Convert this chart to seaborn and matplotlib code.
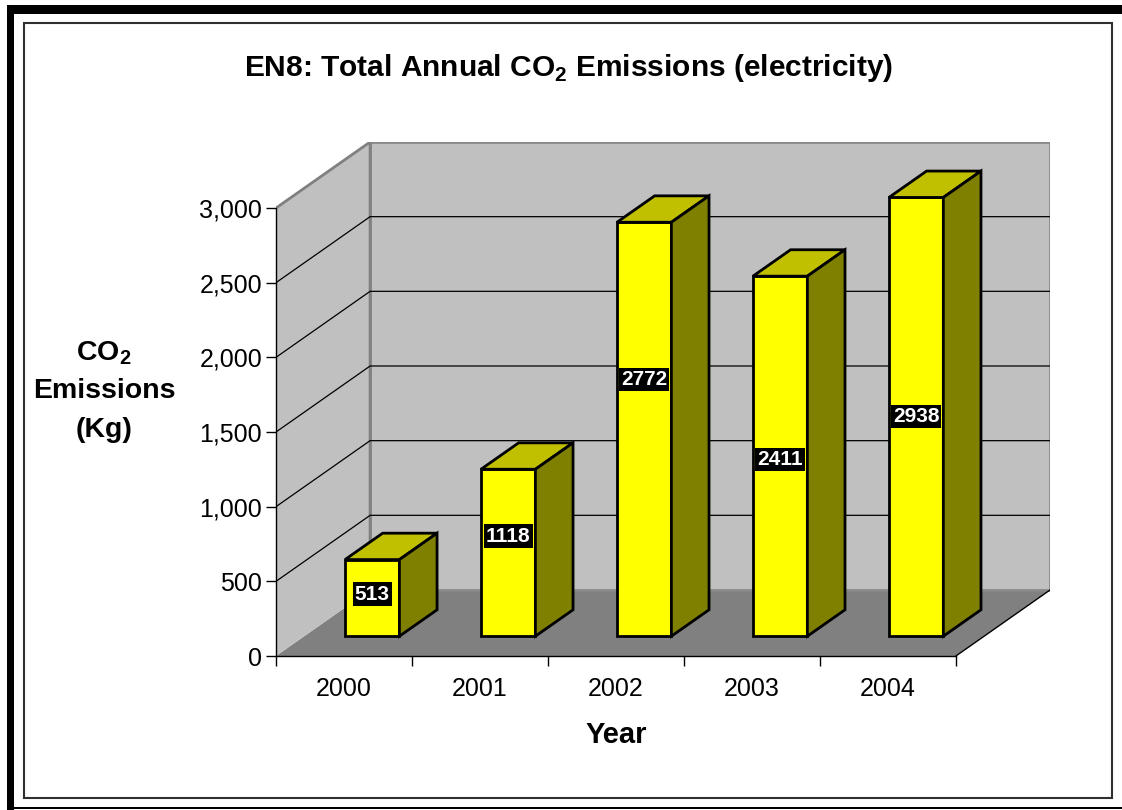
import matplotlib
matplotlib.use('Agg')
import matplotlib.pyplot as plt
from matplotlib.patches import Polygon, Rectangle
import seaborn as sns

# data
years = ['2000', '2001', '2002', '2003', '2004']
emissions = [513, 1118, 2772, 2411, 2938]
y_ticks = [0, 500, 1000, 1500, 2000, 2500, 3000]
label_frac = [0.55, 0.6, 0.62, 0.49, 0.5]   # height of the value label inside each bar

sns.set_style('white')
plt.rcParams['font.family'] = ['Liberation Sans', 'DejaVu Sans']
plt.rcParams['mathtext.fontset'] = 'custom'
plt.rcParams['mathtext.rm'] = 'Liberation Sans'
plt.rcParams['mathtext.bf'] = 'Liberation Sans:bold'
plt.rcParams['text.color'] = 'black'
plt.rcParams['xtick.color'] = 'black'
plt.rcParams['ytick.color'] = 'black'
plt.rcParams['axes.labelcolor'] = 'black'

W, H = 1122, 810
fig = plt.figure(figsize=(W / 100, H / 100), dpi=100)


def px_rect(x0, y0, x1, y1, **kw):
    # rectangle given in pixel coords (top-left origin)
    r = Rectangle((x0 / W, 1 - y1 / H), (x1 - x0) / W, (y1 - y0) / H,
                  transform=fig.transFigure, **kw)
    fig.add_artist(r)


# outer frame + inner border
px_rect(7, 5, 1122, 14, fc='black', ec='none')
px_rect(7, 5, 14, 810, fc='black', ec='none')
px_rect(7, 807, 1122, 809, fc='black', ec='none')
px_rect(24, 23, 1112, 798, fc='none', ec='#303030', lw=1.5)

# 3d depth in data units
DX = 0.692
DY = 442
ymax = y_ticks[-1]
xl, xr = -0.5, len(years) - 0.5

ax = fig.add_axes([276 / W, 1 - 656 / H, 774 / W, 514 / H])
ax.set_facecolor('none')

sns.barplot(x=years, y=emissions, color='#FFFF00', width=0.4, saturation=1,
            edgecolor='black', linewidth=2, ax=ax, zorder=3)
bars = list(ax.patches)

# walls and floor
floor = Polygon([(xl, 0), (xr, 0), (xr + DX, DY), (xl + DX, DY)],
                closed=True, fc='#808080', ec='none', zorder=0)
ax.add_patch(floor)
back = Rectangle((xl + DX, DY), xr - xl, ymax, fc='#C0C0C0', ec='#8a8a8a', lw=2, zorder=0.5)
ax.add_patch(back)
side = Polygon([(xl, 0), (xl + DX, DY), (xl + DX, ymax + DY), (xl, ymax)],
               closed=True, fc='#C0C0C0', ec='none', zorder=0.6)
ax.add_patch(side)
ax.plot([xl, xl + DX, xl + DX], [ymax, ymax + DY, DY], color='#808080', lw=2, zorder=0.7)
ax.plot([xr, xr + DX], [0, DY], color='black', lw=1, zorder=0.7)
for t in y_ticks[1:-1]:
    ax.plot([xl, xl + DX, xr + DX], [t, t + DY, t + DY], color='black', lw=0.9, zorder=0.8)

# bars: shift into the depth and add top / side faces
f0, fd = 0.3, 0.4
for p, v, fr in zip(bars, emissions, label_frac):
    p.set_x(p.get_x() + f0 * DX)
    p.set_y(p.get_y() + f0 * DY)
    p.set_joinstyle('miter')
    x0, y0, w, h = p.get_x(), p.get_y(), p.get_width(), p.get_height()
    top = y0 + h
    ax.add_patch(Polygon([(x0, top), (x0 + w, top), (x0 + w + fd * DX, top + fd * DY),
                          (x0 + fd * DX, top + fd * DY)], closed=True,
                         fc='#C0C000', ec='black', lw=2, joinstyle='miter', zorder=3))
    ax.add_patch(Polygon([(x0 + w, y0), (x0 + w + fd * DX, y0 + fd * DY),
                          (x0 + w + fd * DX, top + fd * DY), (x0 + w, top)], closed=True,
                         fc='#808000', ec='black', lw=2, joinstyle='miter', zorder=3))
    ax.text(x0 + w / 2, y0 + fr * h, str(v), color='white', fontsize=15, fontweight='bold',
            ha='center', va='center', zorder=5,
            bbox=dict(boxstyle='square,pad=0.1', fc='black', ec='none'))

ax.set_xlim(xl, xr + DX)
ax.set_ylim(0, ymax + DY)

for s in ['top', 'right']:
    ax.spines[s].set_visible(False)
ax.spines['left'].set_bounds(0, ymax)
ax.spines['bottom'].set_bounds(xl, xr)
for s in ['left', 'bottom']:
    ax.spines[s].set_color('black')
    ax.spines[s].set_linewidth(1)
    ax.spines[s].set_zorder(1)

ax.set_yticks(y_ticks)
ax.set_yticklabels([f'{t:,}' for t in y_ticks])
ax.tick_params(axis='y', direction='out', length=7, width=1, color='black',
               labelsize=18, pad=3, left=True)

ax.set_xticks([i - 0.5 for i in range(len(years) + 1)])
ax.set_xticklabels([])
ax.set_xticks(range(len(years)), minor=True)
ax.set_xticklabels(years, minor=True)
ax.tick_params(axis='x', which='major', direction='out', length=7, width=1,
               color='black', bottom=True)
ax.tick_params(axis='x', which='minor', length=0, labelsize=18, pad=15)
ax.set_xlabel('')
ax.set_ylabel('')

# titles
fig.text(569 / W, 1 - 68 / H, r'EN8: Total Annual CO$_\mathbf{2}$ Emissions (electricity)',
         ha='center', va='center', fontsize=21.5, fontweight='bold')
fig.text(616 / W, 1 - 735 / H, 'Year', ha='center', va='center', fontsize=21, fontweight='bold')
for txt, yy in zip([r'CO$_\mathbf{2}$', 'Emissions', '(Kg)'], [353, 391, 430]):
    fig.text(104 / W, 1 - yy / H, txt, ha='center', va='center', fontsize=20.5, fontweight='bold')

fig.savefig('out.png', dpi=100)
